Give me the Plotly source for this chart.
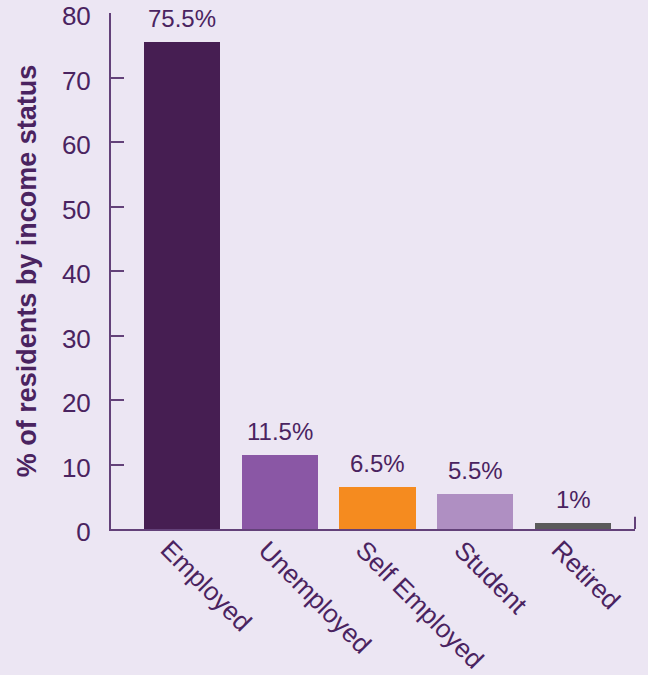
import plotly.graph_objects as go

# Income status breakdown (% of residents)
categories = ["Employed", "Unemployed", "Self Employed", "Student", "Retired"]
values = [75.5, 11.5, 6.5, 5.5, 1]
value_labels = ["75.5%", "11.5%", "6.5%", "5.5%", "1%"]
bar_colors = ["#461E52", "#8A57A5", "#F58B1F", "#AF8FC2", "#5A5A5A"]
y_ticks = [0, 10, 20, 30, 40, 50, 60, 70, 80]

BG = "#ECE6F3"
INK = "#4A2360"
AXIS = "#634179"
FONT = "Liberation Sans, Arial, sans-serif"

fig = go.Figure()
fig.add_trace(go.Bar(
    x=categories,
    y=values,
    marker=dict(color=bar_colors, line=dict(width=0)),
    width=0.78,
    hoverinfo="skip",
))

# value labels above each bar
for cat, val, lab in zip(categories, values, value_labels):
    fig.add_annotation(
        x=cat, y=val, text=lab, showarrow=False,
        yanchor="bottom", yshift=8,
        font=dict(family=FONT, size=24, color=INK),
    )

# slanted category labels below the axis
for cat in categories:
    fig.add_annotation(
        x=cat, y=0, text=cat, showarrow=False,
        textangle=45, xanchor="left", yanchor="top",
        xshift=-30, yshift=-3,
        font=dict(family=FONT, size=26, color=INK),
    )

# small closing tick at the right end of the category axis
fig.add_shape(
    type="line", xref="paper", yref="y",
    x0=1, x1=1, y0=0, y1=1.9,
    line=dict(color=AXIS, width=2),
)

fig.update_layout(
    width=648, height=675,
    paper_bgcolor=BG, plot_bgcolor=BG,
    margin=dict(l=111, r=13, t=13, b=146),
    showlegend=False,
    font=dict(family=FONT, color=INK),
    bargap=0,
)

fig.update_xaxes(
    type="category",
    range=[-0.726, 4.634],
    showline=True, linecolor=AXIS, linewidth=2,
    ticks="", showgrid=False, zeroline=False,
    showticklabels=False,
    automargin=False,
)

fig.update_yaxes(
    range=[0, 80],
    tickvals=y_ticks,
    showline=True, linecolor=AXIS, linewidth=2,
    ticks="inside", ticklen=13, tickwidth=2, tickcolor=AXIS,
    showgrid=False, zeroline=False,
    tickfont=dict(family=FONT, size=26, color=INK),
    ticklabelstandoff=13,
    ticklabelshift=3,
    ticklabeloverflow="allow",
    automargin=False,
    title=dict(
        text="<b>% of residents by income status</b>",
        font=dict(family=FONT, size=27, color=INK),
        standoff=17,
    ),
)

fig.write_html("out.html")
